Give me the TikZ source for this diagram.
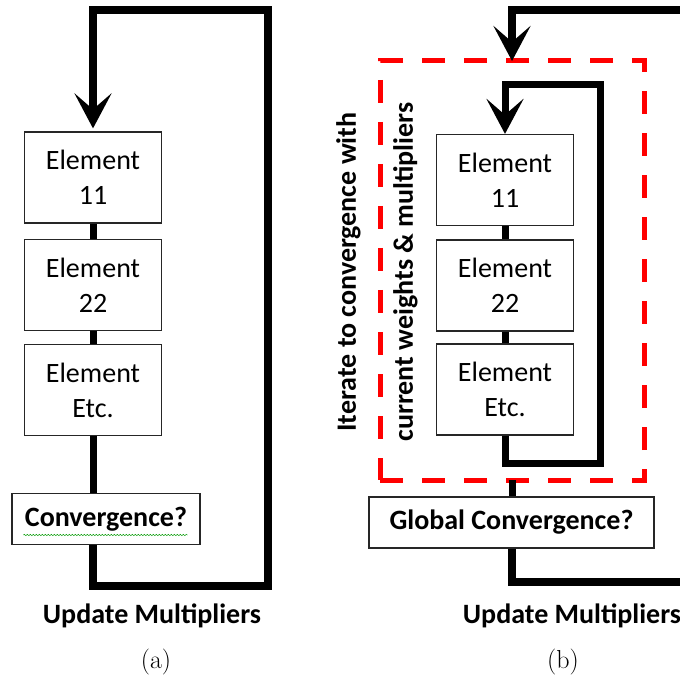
\documentclass[tikz,border=0pt]{standalone}
\usepackage{fontspec}
\newfontfamily\calib{Carlito}
\usetikzlibrary{arrows.meta,decorations.pathmorphing}
\begin{document}
\begin{tikzpicture}[x=1pt,y=-1pt,
  elem/.style={draw=black!85, line width=1.2pt, fill=white, minimum width=137pt,
    minimum height=91pt, inner sep=0pt, align=center,
    font=\calib\fontsize{28}{35}\selectfont},
  check/.style={draw=black!85, line width=1.2pt, fill=white, minimum height=51pt,
    inner sep=0pt, font=\calib\bfseries\fontsize{28}{34}\selectfont},
  bigtext/.style={font=\calib\bfseries\fontsize{28}{34}\selectfont, inner sep=0pt},
  subcap/.style={font=\fontsize{26}{30}\selectfont, inner sep=0pt, anchor=base},
  flow/.style={line width=8pt},
  link/.style={line width=7pt},
  tip/.style={-{Stealth[length=35pt,width=37pt,inset=16pt]}},
  group/.style={draw=red, line width=5pt, dash pattern=on 23pt off 19pt,
    minimum width=264pt, minimum height=419pt, inner sep=0pt, outer sep=0pt}
]
\useasboundingbox (0,0) rectangle (680,676);

% ---------------- (a) ----------------
\node[elem] (a1) at (93,177.5) {Element\\11};
\node[elem] (a2) at (93,285) {Element\\22};
\node[elem] (a3) at (93,390) {Element\\Etc.};
\node[check, minimum width=188pt] (ac) at (106,519) {Convergence?};
\draw[decorate, decoration={snake, amplitude=0.7pt, segment length=3pt},
  green!60!black, line width=0.5pt] (ac.west) ++(12,16) coordinate (sq1)
  -- ++(164,0) coordinate (sq2);

\draw[link] (a1.south) -- (a2.north);
\draw[link] (a2.south) -- (a3.north);
\draw[link] (a3.south) -- (a3.south |- ac.north);

\coordinate (abr) at (268,586);
\coordinate (atr) at (268,10);
\draw[flow, tip, shorten >=3pt] (a3.south |- ac.south) |- (abr) -- (atr) -| (a1.north);

\node[bigtext, anchor=base] (au) at (152,623) {Update Multipliers};
\node[subcap] (acap) at (156,668) {(a)};

% ---------------- (b) ----------------
\node[group] (grp) at (512,270.5) {};
\node[elem] (b1) at (505,180) {Element\\11};
\node[elem] (b2) at (505,285.5) {Element\\22};
\node[elem] (b3) at (505,389.5) {Element\\Etc.};

\draw[link] (b1.south) -- (b2.north);
\draw[link] (b2.south) -- (b3.north);

\coordinate (ibr) at (600,463);
\coordinate (itr) at (600,85);
\draw[link, tip] (b3.south) |- (ibr) -- (itr) -| (b1.north);

\node[bigtext, rotate=90, align=center] (iter) at (377,272)
  {Iterate to convergence with\\[23pt]current weights \& multipliers};

\node[check, minimum width=285pt] (gc) at (511.5,522.5) {Global Convergence?};
\draw[link] (grp.south) -- (grp.south |- gc.north);

\coordinate (rin) at (684,10);
\coordinate (rout) at (684,582);
\draw[flow, tip] (rin) -| (grp.north);
\draw[flow] (grp.south |- gc.south) |- (rout);

\node[bigtext, anchor=base] (bu) at (572,623) {Update Multipliers};
\node[subcap] (bcap) at (563,668) {(b)};
\end{tikzpicture}
\end{document}
